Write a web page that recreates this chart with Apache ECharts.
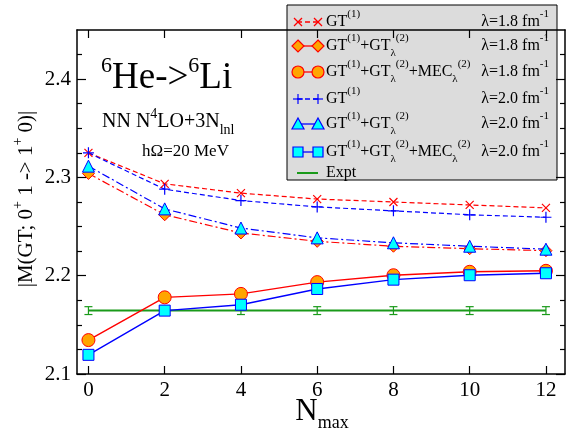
<!DOCTYPE html>
<html>
<head>
<meta charset="utf-8">
<script src="https://cdn.jsdelivr.net/npm/echarts@6/dist/echarts.min.js"></script>
<style>
	html, body { margin: 0; padding: 0; background: #fff; }
	#chart { width: 570px; height: 434px; }
</style>
</head>
<body>
<div id="chart"></div>
<script type="text/javascript">
	// values
	var nmax = [0, 2, 4, 6, 8, 10, 12];
	var gt1_18 = [2.325, 2.2935, 2.284, 2.278, 2.275, 2.272, 2.269];
	var gt1_20 = [2.325, 2.288, 2.2765, 2.270, 2.266, 2.262, 2.2595];
	var gt2_18 = [2.304, 2.262, 2.2435, 2.235, 2.230, 2.2275, 2.2255];
	var gt2_20 = [2.3115, 2.268, 2.2485, 2.2385, 2.2335, 2.230, 2.227];
	var mec_18 = [2.1345, 2.178, 2.1815, 2.1935, 2.2005, 2.204, 2.205];
	var mec_20 = [2.1195, 2.1645, 2.1705, 2.1865, 2.196, 2.2005, 2.2025];
	var expt = [2.1645, 2.1645, 2.1645, 2.1645, 2.1645, 2.1645, 2.1645];
	var exptErr = [0.004, 0.004, 0.004, 0.004, 0.004, 0.004, 0.004];
	var xTicks = [0, 2, 4, 6, 8, 10, 12];
	var yTicks = [2.1, 2.2, 2.3, 2.4];
	var yMinor = [2.125, 2.15, 2.175, 2.225, 2.25, 2.275, 2.325, 2.35, 2.375, 2.425];

	var FONT = '"Liberation Serif", "DejaVu Serif", serif';
	var RED = '#ff0000', BLUE = '#0000ff', ORANGE = '#ffa500', CYAN = '#00ffff', GREEN = '#1a9a1a';
	var DASH = [5, 3];
	var DASHDOT = [8, 3, 2, 3];

	function pairs(ys) {
		return nmax.map(function (x, i) { return [x, ys[i]]; });
	}

	var myChart = echarts.init(document.getElementById('chart'), null, {renderer: 'canvas'});

	function xAxisDef(pos, labels) {
		return {
			type: 'value', position: pos, min: -0.3, max: 12.5,
			axisLine: {show: true, onZero: false, lineStyle: {color: '#000', width: 1.5}},
			axisTick: {show: true, inside: true, length: 8, customValues: xTicks, lineStyle: {color: '#000', width: 1.2}},
			axisLabel: {show: labels, customValues: xTicks, fontFamily: FONT, fontSize: 21, color: '#000', margin: 6},
			splitLine: {show: false}
		};
	}
	function yAxisDef(pos, ticks, len, labels, line) {
		return {
			type: 'value', position: pos, min: 2.1, max: 2.45,
			axisLine: {show: line, onZero: false, lineStyle: {color: '#000', width: 1.5}},
			axisTick: {show: true, inside: true, length: len, customValues: ticks, lineStyle: {color: '#000', width: 1.2}},
			axisLabel: {show: labels, customValues: yTicks, fontFamily: FONT, fontSize: 21, color: '#000', margin: 6,
				formatter: function (v) { return v.toFixed(1); }},
			splitLine: {show: false}
		};
	}

	// legend helpers
	var legendItems = [];
	function sampleLine(y, color, dash) {
		legendItems.push({type: 'line', shape: {x1: 297, y1: y, x2: 318, y2: y},
			style: {stroke: color, lineWidth: 1.3, lineDash: dash}});
	}
	function sampleMark(kind, cx, cy, fill, stroke) {
		var s = {fill: fill, stroke: stroke, lineWidth: 1.2};
		if (kind === 'x') {
			legendItems.push({type: 'line', shape: {x1: cx - 4, y1: cy - 4, x2: cx + 4, y2: cy + 4}, style: {stroke: stroke, lineWidth: 1.2}});
			legendItems.push({type: 'line', shape: {x1: cx - 4, y1: cy + 4, x2: cx + 4, y2: cy - 4}, style: {stroke: stroke, lineWidth: 1.2}});
		} else if (kind === '+') {
			legendItems.push({type: 'line', shape: {x1: cx - 5, y1: cy, x2: cx + 5, y2: cy}, style: {stroke: stroke, lineWidth: 1.2}});
			legendItems.push({type: 'line', shape: {x1: cx, y1: cy - 5, x2: cx, y2: cy + 5}, style: {stroke: stroke, lineWidth: 1.2}});
		} else if (kind === 'diamond') {
			legendItems.push({type: 'polygon', shape: {points: [[cx, cy - 6], [cx + 6, cy], [cx, cy + 6], [cx - 6, cy]]}, style: s});
		} else if (kind === 'circle') {
			legendItems.push({type: 'circle', shape: {cx: cx, cy: cy, r: 6}, style: s});
		} else if (kind === 'triangle') {
			legendItems.push({type: 'polygon', shape: {points: [[cx, cy - 6], [cx + 6, cy + 5], [cx - 6, cy + 5]]}, style: s});
		} else if (kind === 'rect') {
			legendItems.push({type: 'rect', shape: {x: cx - 5, y: cy - 5, width: 10, height: 10}, style: s});
		}
	}
	var richLeg = {
		m: {fontFamily: FONT, fontSize: 16, lineHeight: 26, verticalAlign: 'middle', fill: '#000'},
		p: {fontFamily: FONT, fontSize: 11, lineHeight: 13, verticalAlign: 'top', fill: '#000'},
		b: {fontFamily: FONT, fontSize: 11, lineHeight: 11, verticalAlign: 'bottom', fill: '#000'}
	};
	function legendText(y, label, lam) {
		legendItems.push({type: 'text', x: 326, y: y, style: {text: label, rich: richLeg, align: 'left', verticalAlign: 'middle'}});
		if (lam) {
			legendItems.push({type: 'text', x: 549, y: y, style: {text: '{m|λ=' + lam + ' fm}{p|-1}', rich: richLeg, align: 'right', verticalAlign: 'middle'}});
		}
	}
	legendItems.push({type: 'rect', shape: {x: 287, y: 5, width: 270, height: 175},
		style: {fill: '#dcdcdc', stroke: '#000', lineWidth: 1}});
	var rows = [
		{y: 22, kind: 'x', fill: 'none', stroke: RED, line: RED, dash: DASH, label: '{m|GT}{p|(1)}', lam: '1.8'},
		{y: 46, kind: 'diamond', fill: ORANGE, stroke: RED, line: RED, dash: null, label: '{m|GT}{p|(1)}{m|+GT}{b|λ}{p|(2)}', lam: '1.8'},
		{y: 72, kind: 'circle', fill: ORANGE, stroke: RED, line: RED, dash: null, label: '{m|GT}{p|(1)}{m|+GT}{b|λ}{p|(2)}{m|+MEC}{b|λ}{p|(2)}', lam: '1.8'},
		{y: 99, kind: '+', fill: 'none', stroke: BLUE, line: BLUE, dash: DASH, label: '{m|GT}{p|(1)}', lam: '2.0'},
		{y: 124, kind: 'triangle', fill: CYAN, stroke: BLUE, line: BLUE, dash: null, label: '{m|GT}{p|(1)}{m|+GT}{b|λ}{p|(2)}', lam: '2.0'},
		{y: 152, kind: 'rect', fill: CYAN, stroke: BLUE, line: BLUE, dash: null, label: '{m|GT}{p|(1)}{m|+GT}{b|λ}{p|(2)}{m|+MEC}{b|λ}{p|(2)}', lam: '2.0'}
	];
	rows.forEach(function (r) {
		sampleLine(r.y, r.line, r.dash);
		sampleMark(r.kind, 298, r.y, r.fill, r.stroke);
		sampleMark(r.kind, 318, r.y, r.fill, r.stroke);
		legendText(r.y, r.label, r.lam);
	});
	legendItems.push({type: 'line', shape: {x1: 297, y1: 173, x2: 318, y2: 173}, style: {stroke: GREEN, lineWidth: 2}});
	legendText(173, '{m|Expt}', null);

	var texts = [
		{type: 'text', x: 101, y: 78, style: {
			text: '{s|6}{b|He->}{s|6}{b|Li}', verticalAlign: 'middle',
			rich: {
				b: {fontFamily: FONT, fontSize: 37, lineHeight: 46, verticalAlign: 'middle', fill: '#000'},
				s: {fontFamily: FONT, fontSize: 22, lineHeight: 26, verticalAlign: 'top', fill: '#000'}
			}}},
		{type: 'text', x: 102, y: 122, style: {
			text: '{m|NN N}{p|4}{m|LO+3N}{b|lnl}', verticalAlign: 'middle',
			rich: {
				m: {fontFamily: FONT, fontSize: 20, lineHeight: 30, verticalAlign: 'middle', fill: '#000'},
				p: {fontFamily: FONT, fontSize: 14, lineHeight: 16, verticalAlign: 'top', fill: '#000'},
				b: {fontFamily: FONT, fontSize: 14, lineHeight: 14, verticalAlign: 'bottom', fill: '#000'}
			}}},
		{type: 'text', x: 142, y: 152, style: {text: 'hΩ=20 MeV', font: '17px ' + FONT, fill: '#000', verticalAlign: 'middle'}},
		{type: 'text', x: 26, y: 199, rotation: Math.PI / 2, style: {
			text: '{m||M(GT; 0}{p|+}{m| 1 -> 1}{p|+}{m| 0)|}', align: 'center', verticalAlign: 'middle',
			rich: {
				m: {fontFamily: FONT, fontSize: 21, lineHeight: 30, verticalAlign: 'middle', fill: '#000'},
				p: {fontFamily: FONT, fontSize: 14, lineHeight: 16, verticalAlign: 'top', fill: '#000'}
			}}},
		{type: 'text', x: 322, y: 414, style: {
			text: '{n|N}{s|max}', align: 'center', verticalAlign: 'middle',
			rich: {
				n: {fontFamily: FONT, fontSize: 31, lineHeight: 36, verticalAlign: 'top', fill: '#000'},
				s: {fontFamily: FONT, fontSize: 18, lineHeight: 20, verticalAlign: 'bottom', fill: '#000'}
			}}}
	];

	var option = {
		animation: false,
		backgroundColor: '#fff',
		grid: {left: 77, right: 5, top: 30, bottom: 60},
		xAxis: [xAxisDef('bottom', true), xAxisDef('top', false)],
		yAxis: [
			yAxisDef('left', yTicks, 9, true, true),
			yAxisDef('left', yMinor, 5, false, false),
			yAxisDef('right', yTicks, 9, false, true),
			yAxisDef('right', yMinor, 5, false, false)
		],
		series: [
			{
				name: 'Expt', type: 'line', data: pairs(expt), symbol: 'none',
				lineStyle: {color: GREEN, width: 2}, z: 2
			},
			{
				name: 'Expt err', type: 'custom', data: nmax.map(function (x, i) { return [x, expt[i], exptErr[i]]; }), z: 2,
				renderItem: function (params, api) {
					var top = api.coord([api.value(0), api.value(1) + api.value(2)]);
					var bot = api.coord([api.value(0), api.value(1) - api.value(2)]);
					var w = 4;
					var st = {stroke: GREEN, lineWidth: 1.2};
					return {type: 'group', children: [
						{type: 'line', shape: {x1: top[0], y1: top[1], x2: bot[0], y2: bot[1]}, style: st},
						{type: 'line', shape: {x1: top[0] - w, y1: top[1], x2: top[0] + w, y2: top[1]}, style: st},
						{type: 'line', shape: {x1: bot[0] - w, y1: bot[1], x2: bot[0] + w, y2: bot[1]}, style: st}
					]};
				}
			},
			{
				name: 'GT1 1.8', type: 'line', data: pairs(gt1_18),
				symbol: 'path://M0,0L10,10M10,0L0,10', symbolSize: 8,
				itemStyle: {color: 'rgba(0,0,0,0)', borderColor: RED, borderWidth: 1.2},
				lineStyle: {color: RED, width: 1.2, type: DASH}, z: 3
			},
			{
				name: 'GT1 2.0', type: 'line', data: pairs(gt1_20),
				symbol: 'path://M5,0L5,10M0,5L10,5', symbolSize: 11,
				itemStyle: {color: 'rgba(0,0,0,0)', borderColor: BLUE, borderWidth: 1.2},
				lineStyle: {color: BLUE, width: 1.2, type: DASH}, z: 3
			},
			{
				name: 'GT2 1.8', type: 'line', data: pairs(gt2_18),
				symbol: 'diamond', symbolSize: 12,
				itemStyle: {color: ORANGE, borderColor: RED, borderWidth: 1},
				lineStyle: {color: RED, width: 1.2, type: DASHDOT}, z: 3
			},
			{
				name: 'GT2 2.0', type: 'line', data: pairs(gt2_20),
				symbol: 'triangle', symbolSize: 12,
				itemStyle: {color: CYAN, borderColor: BLUE, borderWidth: 1},
				lineStyle: {color: BLUE, width: 1.2, type: DASHDOT}, z: 4
			},
			{
				name: 'MEC 1.8', type: 'line', data: pairs(mec_18),
				symbol: 'circle', symbolSize: 13,
				itemStyle: {color: ORANGE, borderColor: RED, borderWidth: 1},
				lineStyle: {color: RED, width: 1.4}, z: 3
			},
			{
				name: 'MEC 2.0', type: 'line', data: pairs(mec_20),
				symbol: 'rect', symbolSize: 11,
				itemStyle: {color: CYAN, borderColor: BLUE, borderWidth: 1},
				lineStyle: {color: BLUE, width: 1.4}, z: 4
			}
		],
		graphic: texts.concat(legendItems)
	};
	myChart.setOption(option);
</script>
</body>
</html>
